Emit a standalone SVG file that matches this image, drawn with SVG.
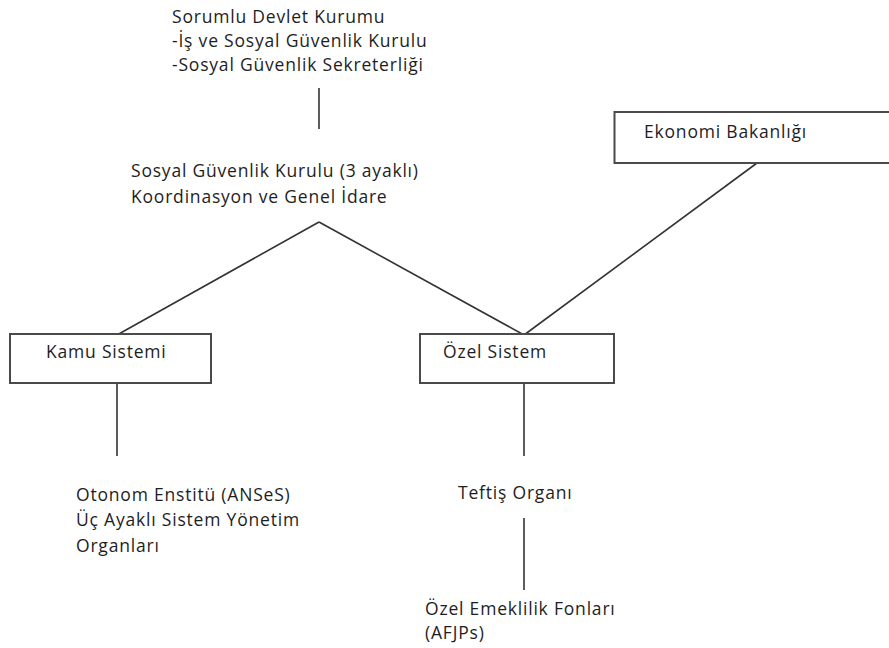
<svg xmlns="http://www.w3.org/2000/svg" width="889" height="648" viewBox="0 0 889 648">
<style>
text{font-family:"Open Sans","Noto Sans",sans-serif;font-size:17.5px;letter-spacing:0.8px;fill:#1e1e1e}
.box{fill:#fff;stroke:#4a4a4a;stroke-width:2}
.ln{stroke:#333;stroke-width:1.6;fill:none}
</style>
<rect width="889" height="648" fill="#fff"/>
<g id="connectors">
<line class="ln" x1="319" y1="88" x2="319" y2="129"/>
<line class="ln" x1="319" y1="222" x2="117" y2="335"/>
<line class="ln" x1="319" y1="222" x2="524" y2="335"/>
<line class="ln" x1="757" y1="163" x2="524" y2="335"/>
<line class="ln" x1="117" y1="383" x2="117" y2="456"/>
<line class="ln" x1="524" y1="383" x2="524" y2="456"/>
<line class="ln" x1="524" y1="518" x2="524" y2="590"/>
</g>
<g id="sorumlu">
<text x="172" y="23">Sorumlu Devlet Kurumu</text>
<text x="172" y="47">-İş ve Sosyal Güvenlik Kurulu</text>
<text x="172" y="71">-Sosyal Güvenlik Sekreterliği</text>
</g>
<g id="kurul">
<text x="131" y="177">Sosyal Güvenlik Kurulu (3 ayaklı)</text>
<text x="131" y="203">Koordinasyon ve Genel İdare</text>
</g>
<g id="ekonomi">
<rect class="box" x="614.5" y="112" width="285" height="51"/>
<text x="644" y="138">Ekonomi Bakanlığı</text>
</g>
<g id="kamu">
<rect class="box" x="10" y="334" width="201" height="49"/>
<text x="46" y="358">Kamu Sistemi</text>
</g>
<g id="ozel">
<rect class="box" x="420" y="334" width="194" height="49"/>
<text x="443" y="358">Özel Sistem</text>
</g>
<g id="otonom">
<text x="76" y="501">Otonom Enstitü (ANSeS)</text>
<text x="76" y="526">Üç Ayaklı Sistem Yönetim</text>
<text x="76" y="552">Organları</text>
</g>
<g id="teftis">
<text x="458" y="499">Teftiş Organı</text>
</g>
<g id="fonlar">
<text x="425" y="615">Özel Emeklilik Fonları</text>
<text x="425" y="639">(AFJPs)</text>
</g>
</svg>
